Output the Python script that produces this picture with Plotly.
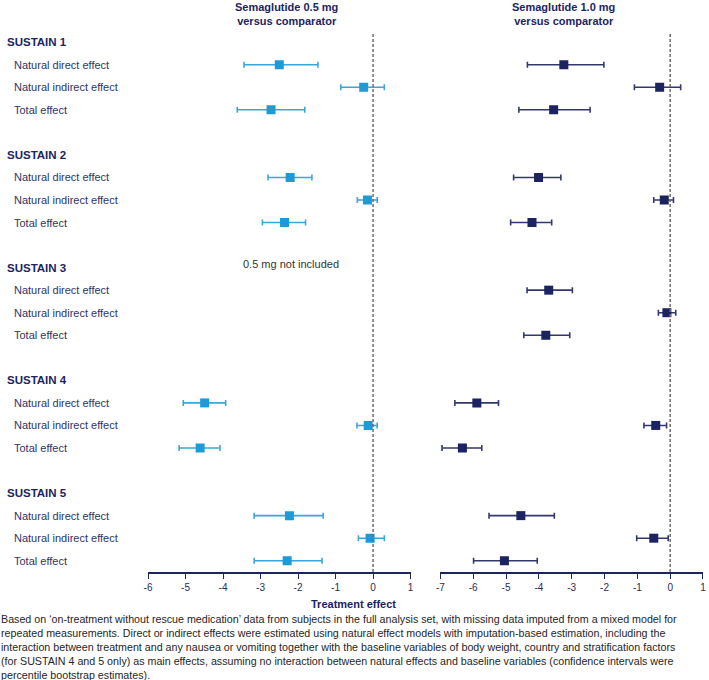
import plotly.graph_objects as go

# ---------------- data ----------------
trials = ["SUSTAIN 1", "SUSTAIN 2", "SUSTAIN 3", "SUSTAIN 4", "SUSTAIN 5"]
effects = ["Natural direct effect", "Natural indirect effect", "Total effect"]

# Semaglutide 0.5 mg vs comparator (SUSTAIN 3 not included)
est_05 = [-2.50, -0.25, -2.72,  -2.21, -0.15, -2.36,  None, None, None,  -4.49, -0.13, -4.61,  -2.23, -0.08, -2.29]
lo_05  = [-3.44, -0.86, -3.62,  -2.80, -0.42, -2.95,  None, None, None,  -5.06, -0.43, -5.17,  -3.17, -0.39, -3.17]
hi_05  = [-1.47,  0.30, -1.82,  -1.63,  0.11, -1.80,  None, None, None,  -3.93,  0.11, -4.08,  -1.33,  0.30, -1.36]

# Semaglutide 1.0 mg vs comparator
est_10 = [-3.24, -0.32, -3.55,  -4.01, -0.18, -4.21,  -3.70, -0.10, -3.79,  -5.89, -0.44, -6.33,  -4.55, -0.50, -5.05]
lo_10  = [-4.35, -1.09, -4.61,  -4.77, -0.50, -4.86,  -4.36, -0.36, -4.46,  -6.56, -0.80, -6.95,  -5.52, -1.02, -5.99]
hi_10  = [-2.02,  0.32, -2.44,  -3.33,  0.10, -3.61,  -2.98,  0.17, -3.06,  -5.23, -0.11, -5.74,  -3.53, -0.06, -4.05]

ticks_05 = [-6, -5, -4, -3, -2, -1, 0, 1]
ticklabels_05 = ["-6", "-5", "-4", "-3", "-2", "-1", "0", "1"]
ticks_10 = [-7, -6, -5, -4, -3, -2, -1, 0, 1]
ticklabels_10 = ["-7", "-6", "-5", "-4", "-3", "-2", "-1", "0", "1"]

panel_titles = ["Semaglutide 0.5 mg<br>versus comparator", "Semaglutide 1.0 mg<br>versus comparator"]
x_title = "Treatment effect"
not_included = "0.5 mg not included"
footnote = ("Based on \u2018on-treatment without rescue medication\u2019 data from subjects in the full analysis set, with missing data imputed from a mixed model for<br>"
            "repeated measurements. Direct or indirect effects were estimated using natural effect models with imputation-based estimation, including the<br>"
            "interaction between treatment and any nausea or vomiting together with the baseline variables of body weight, country and stratification factors<br>"
            "(for SUSTAIN 4 and 5 only) as main effects, assuming no interaction between natural effects and baseline variables (confidence intervals were<br>"
            "percentile bootstrap estimates).")

# ---------------- layout constants ----------------
W, H = 709, 680
ML, MR, MT, MB = 148, 3, 32, 108
PW = W - ML - MR
PH = H - MT - MB
NAVY = "#1c2462"
LABEL = "#2f3468"
C05 = "#1e9bd7"
C05E = "#3aa6da"
C10 = "#1b2360"
C10E = "#33396e"
FONT = "Liberation Sans, Arial, sans-serif"

# row positions: each trial gets header + 3 effect rows + blank
row_y = []
for g, t in enumerate(trials):
    for k, e in enumerate(effects):
        row_y.append(5 * g + 1 + k)

fig = go.Figure()

def add_series(est, lo, hi, color, ecolor, xa):
    ys = [y for y, v in zip(row_y, est) if v is not None]
    xs = [v for v in est if v is not None]
    plus = [h - v for v, h in zip(est, hi) if v is not None]
    minus = [v - l for v, l in zip(est, lo) if v is not None]
    fig.add_trace(go.Scatter(
        x=xs, y=ys, mode="markers", xaxis=xa, yaxis="y",
        marker=dict(symbol="square", size=9, color=color),
        error_x=dict(type="data", symmetric=False, array=plus, arrayminus=minus,
                     color=ecolor, thickness=1.6, width=3),
        showlegend=False, hoverinfo="x+y"))

add_series(est_05, lo_05, hi_05, C05, C05E, "x")
add_series(est_10, lo_10, hi_10, C10, C10E, "x2")

def px_x(px):
    return (px - ML) / PW

def px_y(py):
    return (MT + PH - py) / PH

axis_common = dict(showgrid=False, zeroline=False, showline=True, linecolor=NAVY, linewidth=1.5,
                   ticks="outside", ticklen=5, tickwidth=1.3, tickcolor=NAVY,
                   tickfont=dict(family=FONT, size=10, color="#2a2d55"), anchor="y")

fig.update_layout(
    width=W, height=H, margin=dict(l=ML, r=MR, t=MT, b=MB),
    paper_bgcolor="white", plot_bgcolor="white",
    xaxis=dict(domain=[0, 264 / 558], range=[ticks_05[0], ticks_05[-1]],
               tickvals=ticks_05, ticktext=ticklabels_05, **axis_common),
    xaxis2=dict(domain=[294 / 558, 1], range=[ticks_10[0], ticks_10[-1]],
                tickvals=ticks_10, ticktext=ticklabels_10, **axis_common),
    yaxis=dict(range=[23.5, -0.45], visible=False, showgrid=False, zeroline=False),
    font=dict(family=FONT),
)

# dashed zero lines
for xr in ["x", "x2"]:
    fig.add_shape(type="line", xref=xr, yref="paper", x0=0, x1=0, y0=0, y1=1,
                  line=dict(color="#6e6e6e", width=1.5, dash="3px,2px"))

# row labels
for g, t in enumerate(trials):
    fig.add_annotation(text="<b>" + t + "</b>", xref="paper", yref="y", x=px_x(4), y=5 * g,
                       xanchor="left", yanchor="middle", showarrow=False,
                       font=dict(family=FONT, size=11.5, color=NAVY))
    for k, e in enumerate(effects):
        fig.add_annotation(text=e, xref="paper", yref="y", x=px_x(11), y=5 * g + 1 + k,
                           xanchor="left", yanchor="middle", showarrow=False,
                           font=dict(family=FONT, size=11, color=LABEL))

# panel titles
for cx, txt in zip([287, 566], panel_titles):
    fig.add_annotation(text="<b>" + txt + "</b>", xref="paper", yref="paper", x=px_x(cx), y=px_y(-1),
                       xanchor="center", yanchor="top", showarrow=False,
                       font=dict(family=FONT, size=11, color=NAVY))

# not included note
fig.add_annotation(text=not_included, xref="x", yref="y", x=-2.2, y=9.85,
                   xanchor="center", yanchor="middle", showarrow=False,
                   font=dict(family=FONT, size=11, color="#333333"))

# x-axis title
fig.add_annotation(text="<b>" + x_title + "</b>", xref="paper", yref="paper", x=px_x(355), y=px_y(604),
                   xanchor="center", yanchor="middle", showarrow=False,
                   font=dict(family=FONT, size=11, color=NAVY))

# footnote
fig.add_annotation(text=footnote, xref="paper", yref="paper", x=px_x(-2), y=px_y(611),
                   xanchor="left", yanchor="top", align="left", showarrow=False,
                   font=dict(family=FONT, size=10.7, color="#262626"))

fig.write_html("out.html", config={"displayModeBar": False},
               post_script="document.body.style.margin='0px';document.body.style.padding='0px';")
